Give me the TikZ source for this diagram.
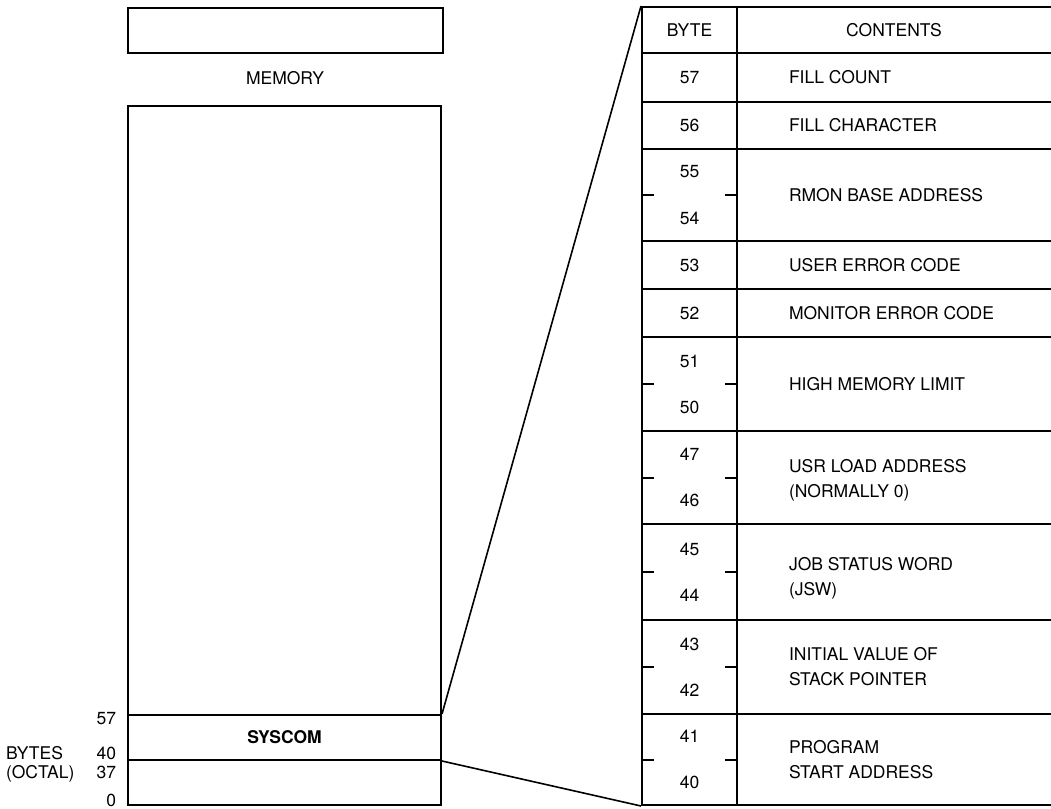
\documentclass[tikz,border=0pt]{standalone}
\usepackage{fontspec}
\setmainfont{TeX Gyre Heros}
\begin{document}
\begin{tikzpicture}[x=1pt,y=-1pt,line width=2pt,
  txt/.style={font=\fontsize{17.5}{25}\selectfont, inner sep=0pt},
  box/.style={draw, inner sep=0pt, line join=miter},
  bytecell/.style={box, minimum width=95pt},
  conttext/.style={txt, anchor=west, align=left}]
\useasboundingbox (0,0) rectangle (1051,808);

% ---------- memory column ----------
\node[box, minimum width=315pt, minimum height=45pt] (memtop) at (285.5,30.5) {};
\node[txt] (memlbl) at (285,78) {MEMORY};
\node[box, minimum width=313pt, minimum height=699pt] (mem) at (284.5,455.5) {};
\node[box, minimum width=313pt, minimum height=45pt,
      font=\fontsize{17.5}{25}\selectfont\bfseries] (syscom) at (284.5,737.5) {SYSCOM};

% address labels
\node[txt, anchor=base east] (a57) at (117,724) {57};
\node[txt, anchor=base east] (a40) at (117,759) {40};
\node[txt, anchor=base east] (a37) at (117,778) {37};
\node[txt, anchor=base east] (a0) at (117,806) {0};
\node[txt, anchor=base west] (bytes) at (5,759) {BYTES};
\node[txt, anchor=base west] (octal) at (5,778) {(OCTAL)};

% ---------- table ----------
% header
\node[bytecell, minimum height=46pt] (hdr) at (689.5,30) {};
\node[txt] (hdrt) at (689.5,30) {BYTE};
\node[box, minimum width=323pt, minimum height=46pt] (hdrc) at (898.5,30) {};
\node[txt] (hdrct) at (894,30) {CONTENTS};

\node[bytecell, minimum height=49pt] (b57) at (689.5,77.5) {};
\node[box, minimum width=323pt, minimum height=49pt] (c57) at (898.5,77.5) {};
\node[txt] (n57) at (689.5,77.5) {57};
\node[conttext] (t57) at (788,77.5) {FILL COUNT};

\node[bytecell, minimum height=47pt] (b56) at (689.5,125.5) {};
\node[box, minimum width=323pt, minimum height=47pt] (c56) at (898.5,125.5) {};
\node[txt] (n56) at (689.5,125.5) {56};
\node[conttext] (t56) at (788,125.5) {FILL CHARACTER};

\node[bytecell, minimum height=92pt] (b55) at (689.5,195) {};
\node[box, minimum width=323pt, minimum height=92pt] (c55) at (898.5,195) {};
\node[txt] (n55) at (689.5,172) {55};
\node[txt] (n54) at (689.5,218) {54};
\node[conttext] (t55) at (788,195) {RMON BASE ADDRESS};

\node[bytecell, minimum height=48pt] (b53) at (689.5,265) {};
\node[box, minimum width=323pt, minimum height=48pt] (c53) at (898.5,265) {};
\node[txt] (n53) at (689.5,265) {53};
\node[conttext] (t53) at (788,265) {USER ERROR CODE};

\node[bytecell, minimum height=48pt] (b52) at (689.5,313) {};
\node[box, minimum width=323pt, minimum height=48pt] (c52) at (898.5,313) {};
\node[txt] (n52) at (689.5,313) {52};
\node[conttext] (t52) at (788,313) {MONITOR ERROR CODE};

\node[bytecell, minimum height=94pt] (b51) at (689.5,384) {};
\node[box, minimum width=323pt, minimum height=94pt] (c51) at (898.5,384) {};
\node[txt] (n51) at (689.5,361) {51};
\node[txt] (n50) at (689.5,407) {50};
\node[conttext] (t51) at (788,384) {HIGH MEMORY LIMIT};

\node[bytecell, minimum height=93pt] (b47) at (689.5,477.5) {};
\node[box, minimum width=323pt, minimum height=93pt] (c47) at (898.5,477.5) {};
\node[txt] (n47) at (689.5,454.5) {47};
\node[txt] (n46) at (689.5,500.5) {46};
\node[conttext] (t47) at (788,480) {USR LOAD ADDRESS\\(NORMALLY 0)};

\node[bytecell, minimum height=96pt] (b45) at (689.5,572) {};
\node[box, minimum width=323pt, minimum height=96pt] (c45) at (898.5,572) {};
\node[txt] (n45) at (689.5,549) {45};
\node[txt] (n44) at (689.5,595) {44};
\node[conttext] (t45) at (788,578) {JOB STATUS WORD\\(JSW)};

\node[bytecell, minimum height=94pt] (b43) at (689.5,667) {};
\node[box, minimum width=323pt, minimum height=94pt] (c43) at (898.5,667) {};
\node[txt] (n43) at (689.5,644) {43};
\node[txt] (n42) at (689.5,690) {42};
\node[conttext] (t43) at (788,667) {INITIAL VALUE OF\\STACK POINTER};

\node[bytecell, minimum height=91pt] (b41) at (689.5,759.5) {};
\node[box, minimum width=323pt, minimum height=91pt] (c41) at (898.5,759.5) {};
\node[txt] (n41) at (689.5,736.5) {41};
\node[txt] (n40) at (689.5,782.5) {40};
\node[conttext] (t41) at (788,759.5) {PROGRAM\\START ADDRESS};

% half-word ticks
\foreach \b in {b55,b51,b47,b45,b43,b41}{
  \draw (\b.west) -- ++(13,0);
  \draw (\b.east) -- ++(-13,0);
}

% ---------- expansion connectors ----------
\draw[line width=1.6pt] (syscom.north east) -- (hdr.north west);
\draw[line width=1.6pt] (syscom.south east) -- (b41.south west);
\end{tikzpicture}
\end{document}
